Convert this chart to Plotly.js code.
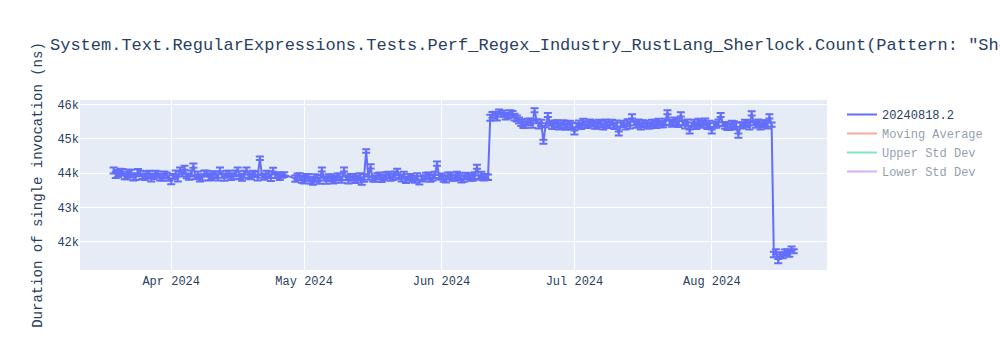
<!DOCTYPE html>
<html>
<head>
<meta charset="utf-8">
<script src="https://cdn.plot.ly/plotly-3.0.1.min.js"></script>
<style>html,body{margin:0;padding:0;background:#fff;}#chart{width:1000px;height:350px;}</style>
</head>
<body>
<div id="chart"></div>
<script>
const titleText = 'System.Text.RegularExpressions.Tests.Perf_Regex_Industry_RustLang_Sherlock.Count(Pattern: "Sherlock Holmes", Options: Compiled)';
const seriesName = '20240818.2';
const yTitle = 'Duration of single invocation (ns)';

// one entry per day; two runs per day (morning run A at 00:00, run B at 12:00)
const dates = [
  '2024-03-19','2024-03-20','2024-03-21','2024-03-22','2024-03-23','2024-03-24','2024-03-25','2024-03-26','2024-03-27','2024-03-28','2024-03-29','2024-03-30','2024-03-31',
  '2024-04-01','2024-04-02','2024-04-03','2024-04-04','2024-04-05','2024-04-06','2024-04-07','2024-04-08','2024-04-09','2024-04-10',
  '2024-04-11','2024-04-12','2024-04-13','2024-04-14','2024-04-15','2024-04-16','2024-04-17','2024-04-18','2024-04-19','2024-04-20',
  '2024-04-21','2024-04-22','2024-04-23','2024-04-24','2024-04-25','2024-04-26','2024-04-29','2024-04-30',
  '2024-05-01','2024-05-02','2024-05-03','2024-05-04','2024-05-05','2024-05-06','2024-05-07','2024-05-08','2024-05-09','2024-05-10',
  '2024-05-11','2024-05-12','2024-05-13','2024-05-14','2024-05-15','2024-05-16','2024-05-17','2024-05-18','2024-05-19','2024-05-20',
  '2024-05-21','2024-05-22','2024-05-23','2024-05-24','2024-05-25','2024-05-26','2024-05-27','2024-05-28','2024-05-29','2024-05-30','2024-05-31',
  '2024-06-01','2024-06-02','2024-06-03','2024-06-04','2024-06-05','2024-06-06','2024-06-07','2024-06-08','2024-06-09','2024-06-10',
  '2024-06-11','2024-06-12','2024-06-13','2024-06-14','2024-06-15','2024-06-16','2024-06-17','2024-06-18','2024-06-19','2024-06-20',
  '2024-06-21','2024-06-22','2024-06-23','2024-06-24','2024-06-25','2024-06-26','2024-06-27','2024-06-28','2024-06-29','2024-06-30',
  '2024-07-01','2024-07-02','2024-07-03','2024-07-04','2024-07-05','2024-07-06','2024-07-07','2024-07-08','2024-07-09','2024-07-10',
  '2024-07-11','2024-07-12','2024-07-13','2024-07-14','2024-07-15','2024-07-16','2024-07-17','2024-07-18','2024-07-19','2024-07-20',
  '2024-07-21','2024-07-22','2024-07-23','2024-07-24','2024-07-25','2024-07-26','2024-07-27','2024-07-28','2024-07-29','2024-07-30','2024-07-31',
  '2024-08-01','2024-08-02','2024-08-03','2024-08-04','2024-08-05','2024-08-06','2024-08-07','2024-08-08','2024-08-09','2024-08-10',
  '2024-08-11','2024-08-12','2024-08-13','2024-08-14','2024-08-15','2024-08-16','2024-08-17','2024-08-18','2024-08-19'
];

const runA = [
  44080,43990,44040,43930,44010,43900,43990,43890,43960,43910,43960,43880,43930,
  43760,43980,44110,44160,43900,44220,43950,43880,43990,43900,
  43960,44110,43880,43990,43910,44110,43880,44110,43910,43970,
  44435,43900,43960,44100,43950,43940,43840,43900,
  43800,43880,43770,43860,44110,43790,43870,43820,43900,44110,
  43800,43890,43830,43770,44650,44200,43840,43920,43880,43950,
  43890,44070,43860,43800,43900,43820,43740,43850,43920,43880,44280,
  43900,43830,43940,43870,43900,43840,43920,43880,44190,43950,
  43900,45620,45700,45800,45740,45680,45720,45600,45480,45420,
  45500,45840,45400,44920,45700,45380,45450,45400,45360,45430,
  45190,45450,45490,45420,45460,45400,45440,45470,45410,45380,
  45160,45440,45480,45660,45420,45380,45450,45400,45460,45500,
  45430,45780,45460,45500,45720,45400,45220,45460,45500,45430,45380,
  45220,45420,45700,45400,45350,45420,45100,45400,45450,45750,
  45420,45380,45460,45660,41620,41430,41600,41700,41800
];

const runB = [
  43950,44030,43900,43990,43880,44020,43910,43970,43870,43990,43880,43950,43860,
  43900,43860,43960,43910,43990,43880,43860,43990,43870,43960,
  43880,43930,43970,43880,43990,43890,43970,43900,43980,43870,
  43920,43980,43870,43920,43880,43960,43900,43820,
  43880,43790,43860,43780,43850,43870,43790,43890,43810,43860,
  43880,43800,43900,43860,43860,43820,43910,43840,43950,43870,
  43960,43880,43940,43880,43830,43900,43840,43920,43850,43950,43890,
  43840,43920,43860,43950,43830,43920,43860,43930,43870,43880,
  43880,45700,45640,45720,45660,45760,45640,45540,45420,45500,
  45430,45520,45470,45400,45460,45450,45380,45470,45420,45380,
  45400,45380,45420,45480,45390,45460,45370,45420,45480,45450,
  45420,45370,45410,45460,45480,45450,45390,45470,45420,45430,
  45500,45480,45530,45440,45470,45480,45420,45390,45450,45500,45440,
  45400,45480,45430,45360,45440,45380,45420,45470,45380,45460,
  45480,45440,45400,45420,41700,41620,41680,41640,41720
];

const errors = [
  90,100,80,110,90,100,80,90,110,80,90,100,80,
  80,100,60,60,90,60,100,90,80,100,
  90,60,100,80,90,60,100,60,90,80,
  50,90,100,60,80,70,90,100,
  100,90,110,90,60,100,90,100,90,60,
  100,90,100,110,50,60,90,100,80,90,
  90,60,100,90,80,100,70,90,100,90,60,
  90,100,80,90,100,90,80,100,60,90,
  80,90,100,60,90,80,100,90,100,90,
  100,60,90,60,60,90,100,80,90,100,
  60,90,100,90,80,100,90,100,80,90,
  60,90,100,60,90,100,80,90,100,90,
  90,60,100,90,60,90,60,100,90,100,90,
  60,90,60,100,90,100,60,90,100,60,
  90,100,90,60,80,60,90,80,60
];

const avgDates = ['2024-03-19','2024-04-15','2024-05-15','2024-06-10','2024-06-20','2024-07-15','2024-08-14','2024-08-19'];
const movingAverage = [43960,43940,43880,43900,45550,45430,45420,41640];
const upperStd = [44060,44040,44000,44010,45720,45520,45520,41760];
const lowerStd = [43860,43840,43760,43790,45380,45340,45320,41520];

// build the per-run table from the named arrays
const xs = [], ys = [], es = [];
dates.forEach((d, i) => {
  xs.push(d + ' 00:00'); ys.push(runA[i]); es.push(errors[i]);
  xs.push(d + ' 12:00'); ys.push(runB[i]); es.push(errors[i]);
});

const traces = [
  {
    x: xs, y: ys, type: 'scatter', mode: 'lines', name: seriesName,
    line: {color: '#636efa', width: 2},
    error_y: {type: 'data', array: es, visible: true, color: '#636efa', thickness: 2, width: 4}
  },
  {x: avgDates, y: movingAverage, type: 'scatter', mode: 'lines', name: 'Moving Average', line: {color: '#EF553B'}, visible: 'legendonly'},
  {x: avgDates, y: upperStd, type: 'scatter', mode: 'lines', name: 'Upper Std Dev', line: {color: '#00cc96'}, visible: 'legendonly'},
  {x: avgDates, y: lowerStd, type: 'scatter', mode: 'lines', name: 'Lower Std Dev', line: {color: '#ab63fa'}, visible: 'legendonly'}
];

const font = '"Liberation Mono", "Courier New", monospace';
const layout = {
  width: 1000, height: 350,
  font: {family: font, size: 12, color: '#2a3f5f'},
  paper_bgcolor: '#ffffff', plot_bgcolor: '#E5ECF6',
  title: {text: titleText, x: 0.05, xanchor: 'left', font: {family: font, size: 17, color: '#2a3f5f'}},
  margin: {l: 80, r: 80, t: 100, b: 80},
  xaxis: {
    type: 'date', range: ['2024-03-11 10:00', '2024-08-27 00:00'],
    gridcolor: '#ffffff', linecolor: '#ffffff', zeroline: false, ticks: '',
    tickformat: '%b %Y', dtick: 'M1'
  },
  yaxis: {
    range: [41170, 46140], gridcolor: '#ffffff', zeroline: false, ticks: '',
    title: {text: yTitle, font: {family: font, size: 14, color: '#2a3f5f'}}
  },
  legend: {font: {family: font, size: 12, color: '#2a3f5f'}},
  showlegend: true
};

Plotly.newPlot('chart', traces, layout, {displayModeBar: false, responsive: false});
</script>
</body>
</html>
